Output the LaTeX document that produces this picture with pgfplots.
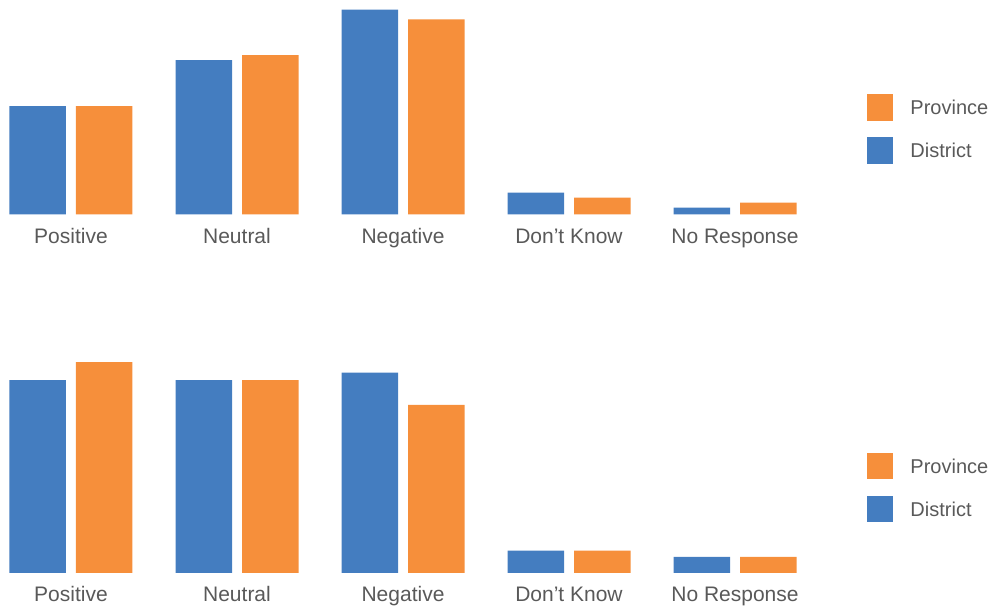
\documentclass[border=0pt]{standalone}
\usepackage{pgfplots}
\pgfplotsset{compat=1.18}
\usepackage{fontspec}
\setmainfont{Liberation Sans}
\definecolor{distblue}{HTML}{447DC0}
\definecolor{provorange}{HTML}{F68F3B}
\definecolor{txtgray}{HTML}{595959}
\pgfplotsset{
  panel/.style={
    anchor=south west,
    x=166pt,
    xmin=-0.4277, xmax=5.5783, ymin=0,
    ybar=10pt, bar width=56.5pt,
    axis line style={draw=none},
    tick style={draw=none}, major tick length=0pt,
    ytick=\empty,
    xtick={0,1,2,3,4},
    xticklabels={Positive,Neutral,Negative,Don’t Know,No Response},
    xticklabel style={font=\fontsize{21}{25}\selectfont, text=txtgray, inner sep=0pt, anchor=north, text height=15pt, text depth=4pt, yshift=-13.5pt},
    clip=false,
    reverse legend,
    legend image code/.code={\fill[##1] (0pt,-6.1pt) rectangle (26.6pt,20.5pt);},
    legend style={draw=none, fill=none, inner sep=0pt, anchor=north west,
      font=\fontsize{20}{24}\selectfont, text=txtgray, row sep=16.4pt,
      nodes={inner sep=0pt, text height=14.3pt, text depth=0pt, anchor=base west},
      /tikz/every odd column/.append style={column sep=17pt}},
  }
}
\begin{document}
\begin{tikzpicture}
\path[use as bounding box] (0pt,0pt) rectangle (997pt,609pt);
% Top panel
\begin{axis}[panel, at={(0pt,394.5pt)}, y=4.95pt, ymax=42,
  legend style={at={(0.8693,0.5796)}}]
\addplot[fill=distblue, draw=none] coordinates {(0,21.9) (1,31.2) (2,41.4) (3,4.4) (4,1.4)};
\addlegendentry{District}
\addplot[fill=provorange, draw=none] coordinates {(0,21.9) (1,32.2) (2,39.4) (3,3.4) (4,2.4)};
\addlegendentry{Province}
\end{axis}
% Bottom panel
\begin{axis}[panel, at={(0pt,36pt)}, y=6.2pt, ymax=35,
  legend style={at={(0.8693,0.5553)}}]
\addplot[fill=distblue, draw=none] coordinates {(0,31.1) (1,31.1) (2,32.3) (3,3.6) (4,2.6)};
\addlegendentry{District}
\addplot[fill=provorange, draw=none] coordinates {(0,34.0) (1,31.1) (2,27.1) (3,3.6) (4,2.6)};
\addlegendentry{Province}
\end{axis}
\end{tikzpicture}
\end{document}
